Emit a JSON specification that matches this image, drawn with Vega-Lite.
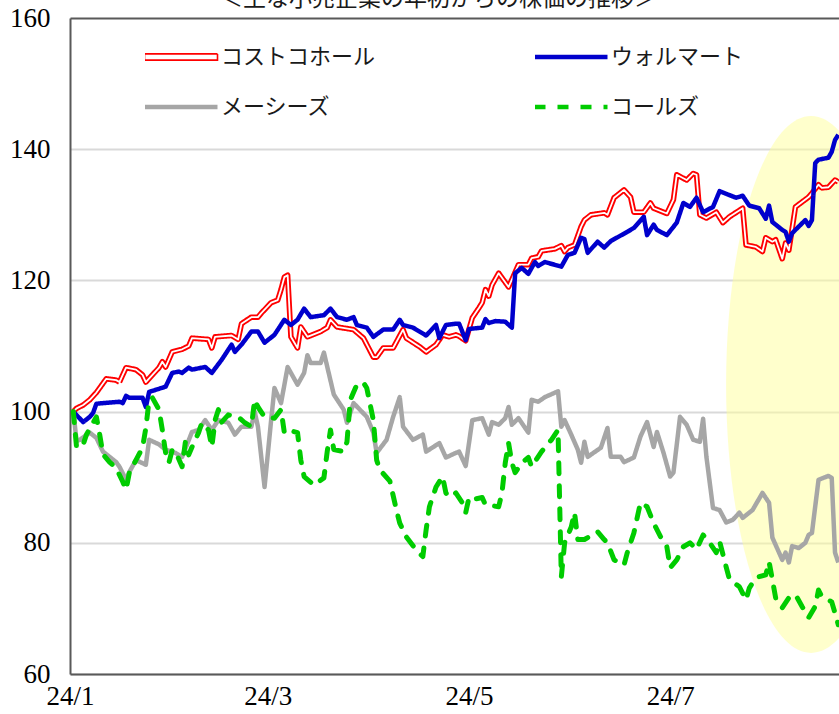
{
  "$schema": "https://vega.github.io/schema/vega-lite/v6.json",
  "width": 769,
  "height": 656,
  "autosize": {"type": "none"},
  "padding": {"left": 70, "top": 18, "right": 0, "bottom": 40},
  "background": "white",
  "config": {"view": {"stroke": null}, "font": "Liberation Serif"},
  "datasets": {
    "hl": [{"d": "2024/08/12 18:00", "v": 104.15}],
    "costco": [
      {"d":"2024/01/02","v":100},{"d":"2024/01/03","v":100.5},{"d":"2024/01/05","v":101},{"d":"2024/01/07","v":101.8},{"d":"2024/01/09","v":102.9},{"d":"2024/01/10","v":103.6},{"d":"2024/01/12","v":105},{"d":"2024/01/15","v":104.8},{"d":"2024/01/16","v":104.5},{"d":"2024/01/18","v":106.7},{"d":"2024/01/21","v":106.4},{"d":"2024/01/23","v":105.6},{"d":"2024/01/24","v":104.5},{"d":"2024/01/26","v":105.6},{"d":"2024/01/28","v":106.7},{"d":"2024/01/29","v":107.6},{"d":"2024/01/30","v":106.8},
      {"d":"2024/02/01","v":109.1},{"d":"2024/02/04","v":109.5},{"d":"2024/02/06","v":110},{"d":"2024/02/07","v":111.2},{"d":"2024/02/12","v":111},{"d":"2024/02/13","v":109.7},{"d":"2024/02/14","v":111.4},{"d":"2024/02/19","v":111.6},{"d":"2024/02/21","v":111},{"d":"2024/02/22","v":113.4},{"d":"2024/02/25","v":114.4},{"d":"2024/02/27","v":114.4},{"d":"2024/02/28","v":115},
      {"d":"2024/03/02","v":116.6},{"d":"2024/03/04","v":117},{"d":"2024/03/05","v":118.6},{"d":"2024/03/06","v":120.5},{"d":"2024/03/07","v":120.8},{"d":"2024/03/08","v":111.4},{"d":"2024/03/10","v":109.7},{"d":"2024/03/11","v":112.9},{"d":"2024/03/13","v":111.4},{"d":"2024/03/17","v":112.2},{"d":"2024/03/19","v":112.8},{"d":"2024/03/20","v":114},{"d":"2024/03/22","v":112.9},{"d":"2024/03/27","v":112.5},{"d":"2024/03/30","v":111.2},
      {"d":"2024/04/02","v":108.3},{"d":"2024/04/03","v":108.3},{"d":"2024/04/05","v":109.7},{"d":"2024/04/08","v":109.7},{"d":"2024/04/11","v":112.5},{"d":"2024/04/12","v":111.2},{"d":"2024/04/16","v":109.9},{"d":"2024/04/18","v":109.1},{"d":"2024/04/21","v":110.2},{"d":"2024/04/23","v":111.7},{"d":"2024/04/25","v":111.4},{"d":"2024/04/27","v":111.7},{"d":"2024/04/28","v":111.5},{"d":"2024/04/30","v":110.8},
      {"d":"2024/05/02","v":114.3},{"d":"2024/05/04","v":115.8},{"d":"2024/05/05","v":116.6},{"d":"2024/05/06","v":118.6},{"d":"2024/05/07","v":117.6},{"d":"2024/05/08","v":119.3},{"d":"2024/05/10","v":121.1},{"d":"2024/05/11","v":120.4},{"d":"2024/05/13","v":119},{"d":"2024/05/14","v":120.1},{"d":"2024/05/16","v":122.4},{"d":"2024/05/19","v":122.4},{"d":"2024/05/20","v":123.4},{"d":"2024/05/22","v":123.6},{"d":"2024/05/23","v":124.5},{"d":"2024/05/27","v":124.8},{"d":"2024/05/29","v":125.3},{"d":"2024/05/30","v":124.4},{"d":"2024/05/31","v":125},
      {"d":"2024/06/02","v":125.4},{"d":"2024/06/04","v":128.2},{"d":"2024/06/05","v":129.2},{"d":"2024/06/07","v":130},{"d":"2024/06/11","v":130.3},{"d":"2024/06/12","v":130},{"d":"2024/06/14","v":132.6},{"d":"2024/06/17","v":133.8},{"d":"2024/06/19","v":132.7},{"d":"2024/06/20","v":130.4},{"d":"2024/06/23","v":130.4},{"d":"2024/06/25","v":131.8},{"d":"2024/06/26","v":131},{"d":"2024/06/30","v":130.2},
      {"d":"2024/07/02","v":132.3},{"d":"2024/07/03","v":136.1},{"d":"2024/07/06","v":135.3},{"d":"2024/07/08","v":136.3},{"d":"2024/07/09","v":136.1},{"d":"2024/07/10","v":130},{"d":"2024/07/12","v":129.5},{"d":"2024/07/15","v":130.4},{"d":"2024/07/17","v":128.8},{"d":"2024/07/19","v":129.7},{"d":"2024/07/23","v":131},{"d":"2024/07/24","v":125.4},{"d":"2024/07/27","v":125.1},{"d":"2024/07/29","v":124.4},{"d":"2024/07/30","v":126.5},
      {"d":"2024/08/01","v":125.9},{"d":"2024/08/02","v":126.2},{"d":"2024/08/04","v":123.3},{"d":"2024/08/05","v":125.7},{"d":"2024/08/06","v":124.6},{"d":"2024/08/08","v":131.2},{"d":"2024/08/12","v":132.7},{"d":"2024/08/13","v":133.3},{"d":"2024/08/15","v":134.6},{"d":"2024/08/16","v":134.1},{"d":"2024/08/18","v":134.2},{"d":"2024/08/20","v":135.3},{"d":"2024/08/21","v":135}
    ],
    "walmart": [
      {"d":"2024/01/02","v":100},{"d":"2024/01/05","v":98.4},{"d":"2024/01/07","v":99.2},{"d":"2024/01/08","v":99.8},{"d":"2024/01/09","v":101.2},{"d":"2024/01/16","v":101.5},{"d":"2024/01/17","v":101.3},{"d":"2024/01/18","v":102.4},{"d":"2024/01/19","v":102.1},{"d":"2024/01/23","v":102.1},{"d":"2024/01/24","v":100.7},{"d":"2024/01/25","v":103},{"d":"2024/01/30","v":103.8},
      {"d":"2024/02/01","v":105.9},{"d":"2024/02/03","v":106.1},{"d":"2024/02/04","v":105.9},{"d":"2024/02/06","v":106.7},{"d":"2024/02/07","v":106.4},{"d":"2024/02/11","v":106.8},{"d":"2024/02/13","v":105.9},{"d":"2024/02/16","v":107.9},{"d":"2024/02/19","v":110.2},{"d":"2024/02/20","v":109.1},{"d":"2024/02/22","v":110.2},{"d":"2024/02/25","v":112.2},{"d":"2024/02/27","v":112.2},{"d":"2024/02/29","v":110.5},
      {"d":"2024/03/03","v":111.7},{"d":"2024/03/06","v":114},{"d":"2024/03/08","v":113.2},{"d":"2024/03/10","v":114},{"d":"2024/03/12","v":115.7},{"d":"2024/03/14","v":114.4},{"d":"2024/03/18","v":114.7},{"d":"2024/03/20","v":115.7},{"d":"2024/03/22","v":114.4},{"d":"2024/03/25","v":114},{"d":"2024/03/27","v":114.4},{"d":"2024/03/28","v":113.2},{"d":"2024/03/31","v":112.8},
      {"d":"2024/04/02","v":111.4},{"d":"2024/04/05","v":112.5},{"d":"2024/04/08","v":112.5},{"d":"2024/04/10","v":114},{"d":"2024/04/11","v":113.2},{"d":"2024/04/14","v":112.8},{"d":"2024/04/18","v":111.6},{"d":"2024/04/21","v":113.2},{"d":"2024/04/22","v":111.2},{"d":"2024/04/24","v":113.2},{"d":"2024/04/27","v":113.4},{"d":"2024/04/28","v":113.4},{"d":"2024/04/30","v":110.9},
      {"d":"2024/05/01","v":112.6},{"d":"2024/05/05","v":112.8},{"d":"2024/05/06","v":114.1},{"d":"2024/05/07","v":113.5},{"d":"2024/05/09","v":113.8},{"d":"2024/05/12","v":113.7},{"d":"2024/05/14","v":112.8},{"d":"2024/05/15","v":121.1},{"d":"2024/05/17","v":121.9},{"d":"2024/05/19","v":121},{"d":"2024/05/21","v":122.8},{"d":"2024/05/22","v":122.2},{"d":"2024/05/24","v":122.8},{"d":"2024/05/29","v":122.1},{"d":"2024/05/31","v":123.9},
      {"d":"2024/06/02","v":124.2},{"d":"2024/06/04","v":126.5},{"d":"2024/06/05","v":126.3},{"d":"2024/06/06","v":124.2},{"d":"2024/06/09","v":125.9},{"d":"2024/06/11","v":125},{"d":"2024/06/13","v":126},{"d":"2024/06/18","v":127.4},{"d":"2024/06/20","v":128},{"d":"2024/06/23","v":129.7},{"d":"2024/06/24","v":126.9},{"d":"2024/06/26","v":128.5},{"d":"2024/06/27","v":127.7},{"d":"2024/06/30","v":126.9},
      {"d":"2024/07/03","v":128.8},{"d":"2024/07/05","v":131.8},{"d":"2024/07/07","v":131.2},{"d":"2024/07/09","v":132.6},{"d":"2024/07/11","v":130.4},{"d":"2024/07/14","v":131.2},{"d":"2024/07/16","v":133.6},{"d":"2024/07/19","v":133},{"d":"2024/07/21","v":132.6},{"d":"2024/07/23","v":132.9},{"d":"2024/07/25","v":131.4},{"d":"2024/07/28","v":131},{"d":"2024/07/30","v":129.4},{"d":"2024/07/31","v":131.4},
      {"d":"2024/08/01","v":128.9},{"d":"2024/08/04","v":127.7},{"d":"2024/08/05","v":127.4},{"d":"2024/08/06","v":125.9},{"d":"2024/08/07","v":127.2},{"d":"2024/08/09","v":128.2},{"d":"2024/08/11","v":129.2},{"d":"2024/08/12","v":128.3},{"d":"2024/08/13","v":129.2},{"d":"2024/08/14","v":137.9},{"d":"2024/08/15","v":138.4},{"d":"2024/08/18","v":138.7},{"d":"2024/08/19","v":139.6},{"d":"2024/08/20","v":141.4},{"d":"2024/08/21","v":142.2}
    ],
    "macys": [
      {"d":"2024/01/02","v":100},{"d":"2024/01/03","v":95.5},{"d":"2024/01/04","v":95.7},{"d":"2024/01/07","v":96.8},{"d":"2024/01/09","v":96},{"d":"2024/01/11","v":93.9},{"d":"2024/01/15","v":92.3},{"d":"2024/01/16","v":91.6},{"d":"2024/01/18","v":89.6},{"d":"2024/01/19","v":90.8},{"d":"2024/01/21","v":92.6},{"d":"2024/01/24","v":91.9},{"d":"2024/01/25","v":95.7},{"d":"2024/01/28","v":95},{"d":"2024/01/30","v":94.2},
      {"d":"2024/02/02","v":93.7},{"d":"2024/02/04","v":93.1},{"d":"2024/02/07","v":96.9},{"d":"2024/02/09","v":97.2},{"d":"2024/02/11","v":98.7},{"d":"2024/02/13","v":97.2},{"d":"2024/02/15","v":98.7},{"d":"2024/02/18","v":98.3},{"d":"2024/02/20","v":96.5},{"d":"2024/02/22","v":97.7},{"d":"2024/02/25","v":97.7},{"d":"2024/02/26","v":100},{"d":"2024/02/27","v":97.7},{"d":"2024/02/29","v":88.5},
      {"d":"2024/03/02","v":98.7},{"d":"2024/03/03","v":103.6},{"d":"2024/03/05","v":101.3},{"d":"2024/03/07","v":106.8},{"d":"2024/03/10","v":104.1},{"d":"2024/03/12","v":105.9},{"d":"2024/03/13","v":108.6},{"d":"2024/03/14","v":107.4},{"d":"2024/03/17","v":107.4},{"d":"2024/03/18","v":109},{"d":"2024/03/21","v":102.6},{"d":"2024/03/24","v":100.3},{"d":"2024/03/25","v":98.3},{"d":"2024/03/27","v":101.3},{"d":"2024/03/31","v":99.2},
      {"d":"2024/04/02","v":96.8},{"d":"2024/04/03","v":93.7},{"d":"2024/04/06","v":95.7},{"d":"2024/04/08","v":99.2},{"d":"2024/04/10","v":102.2},{"d":"2024/04/11","v":97.7},{"d":"2024/04/14","v":95.7},{"d":"2024/04/17","v":96.5},{"d":"2024/04/18","v":93.9},{"d":"2024/04/22","v":95.2},{"d":"2024/04/24","v":93},{"d":"2024/04/27","v":93.7},{"d":"2024/04/28","v":93.9},{"d":"2024/04/30","v":91.7},
      {"d":"2024/05/02","v":98.7},{"d":"2024/05/05","v":99},{"d":"2024/05/07","v":96.5},{"d":"2024/05/08","v":98.4},{"d":"2024/05/10","v":98},{"d":"2024/05/12","v":99},{"d":"2024/05/13","v":100.7},{"d":"2024/05/14","v":98},{"d":"2024/05/16","v":99},{"d":"2024/05/19","v":96.8},{"d":"2024/05/20","v":101.8},{"d":"2024/05/22","v":101.5},{"d":"2024/05/24","v":102.2},{"d":"2024/05/28","v":103.1},{"d":"2024/05/29","v":97.7},{"d":"2024/05/30","v":98.7},
      {"d":"2024/06/01","v":96.5},{"d":"2024/06/03","v":94.2},{"d":"2024/06/04","v":92.2},{"d":"2024/06/05","v":95.4},{"d":"2024/06/06","v":93.1},{"d":"2024/06/10","v":94.5},{"d":"2024/06/12","v":97.5},{"d":"2024/06/13","v":93.1},{"d":"2024/06/16","v":93.1},{"d":"2024/06/17","v":92.3},{"d":"2024/06/20","v":93},{"d":"2024/06/22","v":96.2},{"d":"2024/06/24","v":98.4},{"d":"2024/06/26","v":94.6},{"d":"2024/06/27","v":96.9},{"d":"2024/06/29","v":93.7},
      {"d":"2024/07/01","v":90.1},{"d":"2024/07/02","v":90.7},{"d":"2024/07/04","v":99.2},{"d":"2024/07/06","v":98},{"d":"2024/07/08","v":95.7},{"d":"2024/07/10","v":95.4},{"d":"2024/07/11","v":98.9},{"d":"2024/07/12","v":93.1},{"d":"2024/07/14","v":85.3},{"d":"2024/07/16","v":85},{"d":"2024/07/18","v":83.1},{"d":"2024/07/20","v":83.5},{"d":"2024/07/22","v":84.6},{"d":"2024/07/23","v":83.8},{"d":"2024/07/26","v":85},{"d":"2024/07/29","v":87.6},{"d":"2024/07/31","v":86.1},
      {"d":"2024/08/01","v":80.8},{"d":"2024/08/04","v":77.4},{"d":"2024/08/05","v":78.5},{"d":"2024/08/06","v":77},{"d":"2024/08/07","v":79.5},{"d":"2024/08/09","v":79.2},{"d":"2024/08/11","v":80},{"d":"2024/08/12","v":81.2},{"d":"2024/08/13","v":81.5},{"d":"2024/08/15","v":89.6},{"d":"2024/08/18","v":90.2},{"d":"2024/08/19","v":89.9},{"d":"2024/08/20","v":78.5},{"d":"2024/08/21","v":77}
    ],
    "kohls": [
      {"d":"2024/01/02","v":100},{"d":"2024/01/03","v":94.5},{"d":"2024/01/05","v":95},{"d":"2024/01/06","v":96.5},{"d":"2024/01/09","v":99.2},{"d":"2024/01/10","v":96.5},{"d":"2024/01/11","v":93.5},{"d":"2024/01/13","v":92.3},{"d":"2024/01/15","v":91.4},{"d":"2024/01/17","v":89.3},{"d":"2024/01/18","v":88.1},{"d":"2024/01/19","v":90.7},{"d":"2024/01/21","v":92.6},{"d":"2024/01/23","v":94.5},{"d":"2024/01/24","v":97.5},{"d":"2024/01/25","v":101.8},{"d":"2024/01/26","v":102.1},{"d":"2024/01/28","v":100.3},{"d":"2024/01/29","v":97.2},{"d":"2024/01/30","v":93.7},{"d":"2024/01/31","v":92.2},
      {"d":"2024/02/01","v":94.2},{"d":"2024/02/02","v":93.9},{"d":"2024/02/04","v":91.6},{"d":"2024/02/05","v":95.4},{"d":"2024/02/06","v":93.4},{"d":"2024/02/07","v":94.6},{"d":"2024/02/09","v":96.8},{"d":"2024/02/10","v":98.3},{"d":"2024/02/12","v":97.2},{"d":"2024/02/13","v":94.6},{"d":"2024/02/14","v":98.7},{"d":"2024/02/15","v":100.3},{"d":"2024/02/16","v":98.4},{"d":"2024/02/18","v":99.5},{"d":"2024/02/21","v":99.2},{"d":"2024/02/23","v":98.3},{"d":"2024/02/25","v":97.7},{"d":"2024/02/26","v":101.8},{"d":"2024/02/27","v":100.7},{"d":"2024/02/29","v":99.2},
      {"d":"2024/03/03","v":99},{"d":"2024/03/05","v":100.3},{"d":"2024/03/06","v":96.8},{"d":"2024/03/07","v":97.2},{"d":"2024/03/10","v":96.8},{"d":"2024/03/11","v":92.6},{"d":"2024/03/12","v":90.1},{"d":"2024/03/15","v":88.8},{"d":"2024/03/18","v":89.9},{"d":"2024/03/19","v":93.9},{"d":"2024/03/20","v":97.2},{"d":"2024/03/21","v":94.2},{"d":"2024/03/24","v":93.9},{"d":"2024/03/25","v":95.4},{"d":"2024/03/26","v":101.8},{"d":"2024/03/28","v":104.1},{"d":"2024/03/30","v":104.4},{"d":"2024/03/31","v":103.6},
      {"d":"2024/04/02","v":98.7},{"d":"2024/04/03","v":92.6},{"d":"2024/04/04","v":91.1},{"d":"2024/04/07","v":89.4},{"d":"2024/04/09","v":85},{"d":"2024/04/10","v":83},{"d":"2024/04/12","v":80.9},{"d":"2024/04/15","v":78.9},{"d":"2024/04/17","v":77.9},{"d":"2024/04/18","v":82},{"d":"2024/04/19","v":85.5},{"d":"2024/04/21","v":88.5},{"d":"2024/04/23","v":90.1},{"d":"2024/04/24","v":87.6},{"d":"2024/04/25","v":87},{"d":"2024/04/27","v":87.6},{"d":"2024/04/29","v":86.1},{"d":"2024/04/30","v":84.6},
      {"d":"2024/05/01","v":86.9},{"d":"2024/05/02","v":86.6},{"d":"2024/05/05","v":86.9},{"d":"2024/05/06","v":85.8},{"d":"2024/05/10","v":85.5},{"d":"2024/05/11","v":87.6},{"d":"2024/05/12","v":92.2},{"d":"2024/05/13","v":95.2},{"d":"2024/05/14","v":92.2},{"d":"2024/05/15","v":90.7},{"d":"2024/05/17","v":92.2},{"d":"2024/05/19","v":93},{"d":"2024/05/20","v":91.6},{"d":"2024/05/23","v":93.9},{"d":"2024/05/26","v":95.7},{"d":"2024/05/28","v":97.2},{"d":"2024/05/29","v":74.8},{"d":"2024/05/30","v":80},
      {"d":"2024/06/01","v":82.4},{"d":"2024/06/02","v":84.6},{"d":"2024/06/03","v":80.5},{"d":"2024/06/05","v":80.5},{"d":"2024/06/09","v":81.7},{"d":"2024/06/11","v":80.5},{"d":"2024/06/12","v":80},{"d":"2024/06/14","v":77.4},{"d":"2024/06/17","v":76.6},{"d":"2024/06/18","v":78.5},{"d":"2024/06/20","v":81.5},{"d":"2024/06/22","v":86.1},{"d":"2024/06/24","v":85.5},{"d":"2024/06/26","v":83},{"d":"2024/06/28","v":81},{"d":"2024/06/30","v":79.4},
      {"d":"2024/07/01","v":76.2},{"d":"2024/07/03","v":77.4},{"d":"2024/07/05","v":79.4},{"d":"2024/07/07","v":80},{"d":"2024/07/09","v":79},{"d":"2024/07/11","v":81.2},{"d":"2024/07/13","v":80},{"d":"2024/07/15","v":78.5},{"d":"2024/07/16","v":80.2},{"d":"2024/07/18","v":76.3},{"d":"2024/07/19","v":74.4},{"d":"2024/07/22","v":73.3},{"d":"2024/07/24","v":71.3},{"d":"2024/07/25","v":73.1},{"d":"2024/07/27","v":74.7},{"d":"2024/07/30","v":75.1},{"d":"2024/07/31","v":77.1},
      {"d":"2024/08/01","v":74.4},{"d":"2024/08/02","v":71.6},{"d":"2024/08/04","v":70.1},{"d":"2024/08/06","v":71.6},{"d":"2024/08/08","v":72.1},{"d":"2024/08/10","v":70.3},{"d":"2024/08/12","v":68.6},{"d":"2024/08/14","v":70.3},{"d":"2024/08/15","v":72.8},{"d":"2024/08/16","v":71.8},{"d":"2024/08/19","v":71},{"d":"2024/08/20","v":69.3},{"d":"2024/08/21","v":67.5}
    ]
  },
  "encoding": {
    "x": {
      "field": "d",
      "type": "temporal",
      "scale": {"domain": [{"year": 2024, "month": 1, "date": 1}, {"year": 2024, "month": 8, "date": 21, "hours": 5}]},
      "axis": {
        "title": null,
        "values": [{"year": 2024, "month": 1, "date": 1}, {"year": 2024, "month": 3, "date": 1}, {"year": 2024, "month": 5, "date": 1}, {"year": 2024, "month": 7, "date": 1}],
        "format": "%y/%-m",
        "labelFlush": false,
        "labelOverlap": false,
        "ticks": false,
        "grid": false,
        "domain": true,
        "domainColor": "#595959",
        "domainWidth": 2,
        "labelFont": "Liberation Serif, Times New Roman, serif",
        "labelFontSize": 27,
        "labelColor": "#000000",
        "labelPadding": 9
      }
    },
    "y": {
      "field": "v",
      "type": "quantitative",
      "scale": {"domain": [60, 160], "nice": false, "zero": false},
      "axis": {
        "title": "＜主な小売企業の年初からの株価の推移＞",
        "titleX": 368,
        "titleY": -13,
        "titleAngle": 0,
        "titleAlign": "center",
        "titleBaseline": "alphabetic",
        "titleFont": "Noto Sans CJK JP",
        "titleFontSize": 23,
        "titleFontWeight": "normal",
        "titleColor": "#1a1a1a",
        "values": [60, 80, 100, 120, 140, 160],
        "ticks": false,
        "grid": true,
        "gridColor": {"condition": {"test": "datum.value === 160", "value": "#595959"}, "value": "#D9D9D9"},
        "gridWidth": 2,
        "domain": true,
        "domainColor": "#595959",
        "domainWidth": 2,
        "labelFont": "Liberation Serif, Times New Roman, serif",
        "labelFontSize": 27,
        "labelColor": "#000000",
        "labelPadding": 20,
        "labelFlush": false
      }
    }
  },
  "layer": [
    {
      "data": {"name": "hl"},
      "mark": {
        "type": "point",
        "shape": "M0,-1A0.3166,1,0,1,1,0,1A0.3166,1,0,1,1,0,-1Z",
        "size": 288369,
        "filled": true,
        "color": "#FFFF99",
        "opacity": 0.5,
        "strokeWidth": 0
      }
    },
    {
      "data": {"name": "costco"},
      "mark": {"type": "line", "strokeWidth": 5.5, "strokeJoin": "round"},
      "encoding": {
        "color": {
          "datum": "コストコホール",
          "scale": {
            "domain": ["コストコホール", "ウォルマート", "メーシーズ", "コールズ"],
            "range": ["#FF0000", "#0000CC", "#A6A6A6", "#00CC00"]
          },
          "legend": {
            "title": null,
            "orient": "none",
            "direction": "horizontal",
            "legendX": 75,
            "legendY": 27,
            "columns": 2,
            "columnPadding": 159,
            "rowPadding": 26,
            "clipHeight": 24,
            "padding": 0,
            "symbolType": {"expr": "datum.value === 'コストコホール' ? 'M-1,-0.085H1V0.085H-1Z' : 'stroke'"},
            "symbolFillColor": {"expr": "datum.value === 'コストコホール' ? '#FFFFFF' : 'transparent'"},
            "symbolStrokeWidth": {"expr": "datum.value === 'コストコホール' ? 1.6 : 4.5"},
            "symbolSize": 5329,
            "symbolOffset": 25,
            "labelFont": "Noto Sans CJK JP",
            "labelFontSize": 22,
            "labelColor": "#1a1a1a",
            "labelOffset": 29,
            "labelLimit": 300
          }
        },
        "strokeDash": {
          "datum": "コストコホール",
          "scale": {
            "domain": ["コストコホール", "ウォルマート", "メーシーズ", "コールズ"],
            "range": [[1, 0], [1, 0], [1, 0], [11, 12]]
          }
        }
      }
    },
    {
      "data": {"name": "costco"},
      "mark": {"type": "line", "strokeWidth": 1.8, "color": "#FFFFFF", "strokeJoin": "round"}
    },
    {
      "data": {"name": "walmart"},
      "mark": {"type": "line", "strokeWidth": 4.5, "strokeJoin": "round"},
      "encoding": {"color": {"datum": "ウォルマート"}, "strokeDash": {"datum": "ウォルマート"}}
    },
    {
      "data": {"name": "macys"},
      "mark": {"type": "line", "strokeWidth": 4.5, "strokeJoin": "round"},
      "encoding": {"color": {"datum": "メーシーズ"}, "strokeDash": {"datum": "メーシーズ"}}
    },
    {
      "data": {"name": "kohls"},
      "mark": {"type": "line", "strokeWidth": 5, "strokeJoin": "round", "strokeCap": "round"},
      "encoding": {"color": {"datum": "コールズ"}, "strokeDash": {"datum": "コールズ"}}
    }
  ]
}
